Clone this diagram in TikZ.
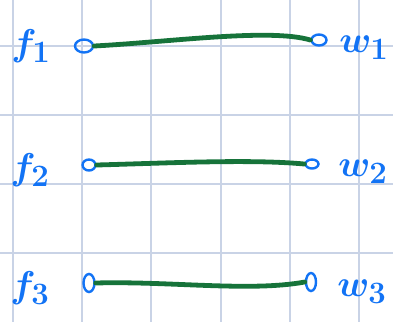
\documentclass[tikz,border=0pt]{standalone}
\usepackage{xcolor}
\usepackage{tikz}
\usetikzlibrary{shapes,positioning,calc}
\definecolor{inkblue}{HTML}{1273F5}
\definecolor{inkgreen}{HTML}{16733A}
\definecolor{gridblue}{HTML}{C9D3E6}

\begin{document}
\begin{tikzpicture}[x=1pt, y=-1pt,
    grid_line/.style={draw=gridblue, line width=1.2pt},
    port/.style={draw=inkblue, ellipse, line width=2.4pt, inner sep=0pt},
    lbl/.style={text=inkblue, font=\Huge\boldmath, scale=1.5, inner sep=0pt},
    wire/.style={draw=inkgreen, line width=4.8pt, line cap=round}
]
    \useasboundingbox (0,0) rectangle (393,322);
    % Grid
    \foreach \gx in {13,82,151,221,290,359}
        \draw[grid_line] (\gx,0) -- (\gx,322);
    \foreach \gy in {46,115,184,253}
        \draw[grid_line] (0,\gy) -- (393,\gy);

    % Nodes
    \node[port, minimum width=18pt, minimum height=13pt] (f1c) at (84,46) {};
    \node[port, minimum width=15pt, minimum height=11pt] (w1c) at (319,40) {};
    \node[port, minimum width=13pt, minimum height=11pt] (f2c) at (89,165) {};
    \node[port, minimum width=13pt, minimum height=9pt] (w2c) at (312,164) {};
    \node[port, minimum width=11pt, minimum height=18pt] (f3c) at (89,283) {};
    \node[port, minimum width=10pt, minimum height=18pt] (w3c) at (311,282) {};

    \node[lbl] (f1) at (31,46) {$f_1$};
    \node[lbl] (w1) at (364,48) {$w_1$};
    \node[lbl] (f2) at (30,170) {$f_2$};
    \node[lbl] (w2) at (363,172) {$w_2$};
    \node[lbl] (f3) at (30,288) {$f_3$};
    \node[lbl] (w3) at (362,292) {$w_3$};

    % Wires
    \draw[wire] (f1c.east) .. controls (170,42) and (270,28) .. (w1c.west);
    \draw[wire] (f2c.east) .. controls (170,163) and (250,159) .. (w2c.west);
    \draw[wire] (f3c.east) .. controls (170,281) and (250,292) .. (w3c.west);
\end{tikzpicture}
\end{document}
